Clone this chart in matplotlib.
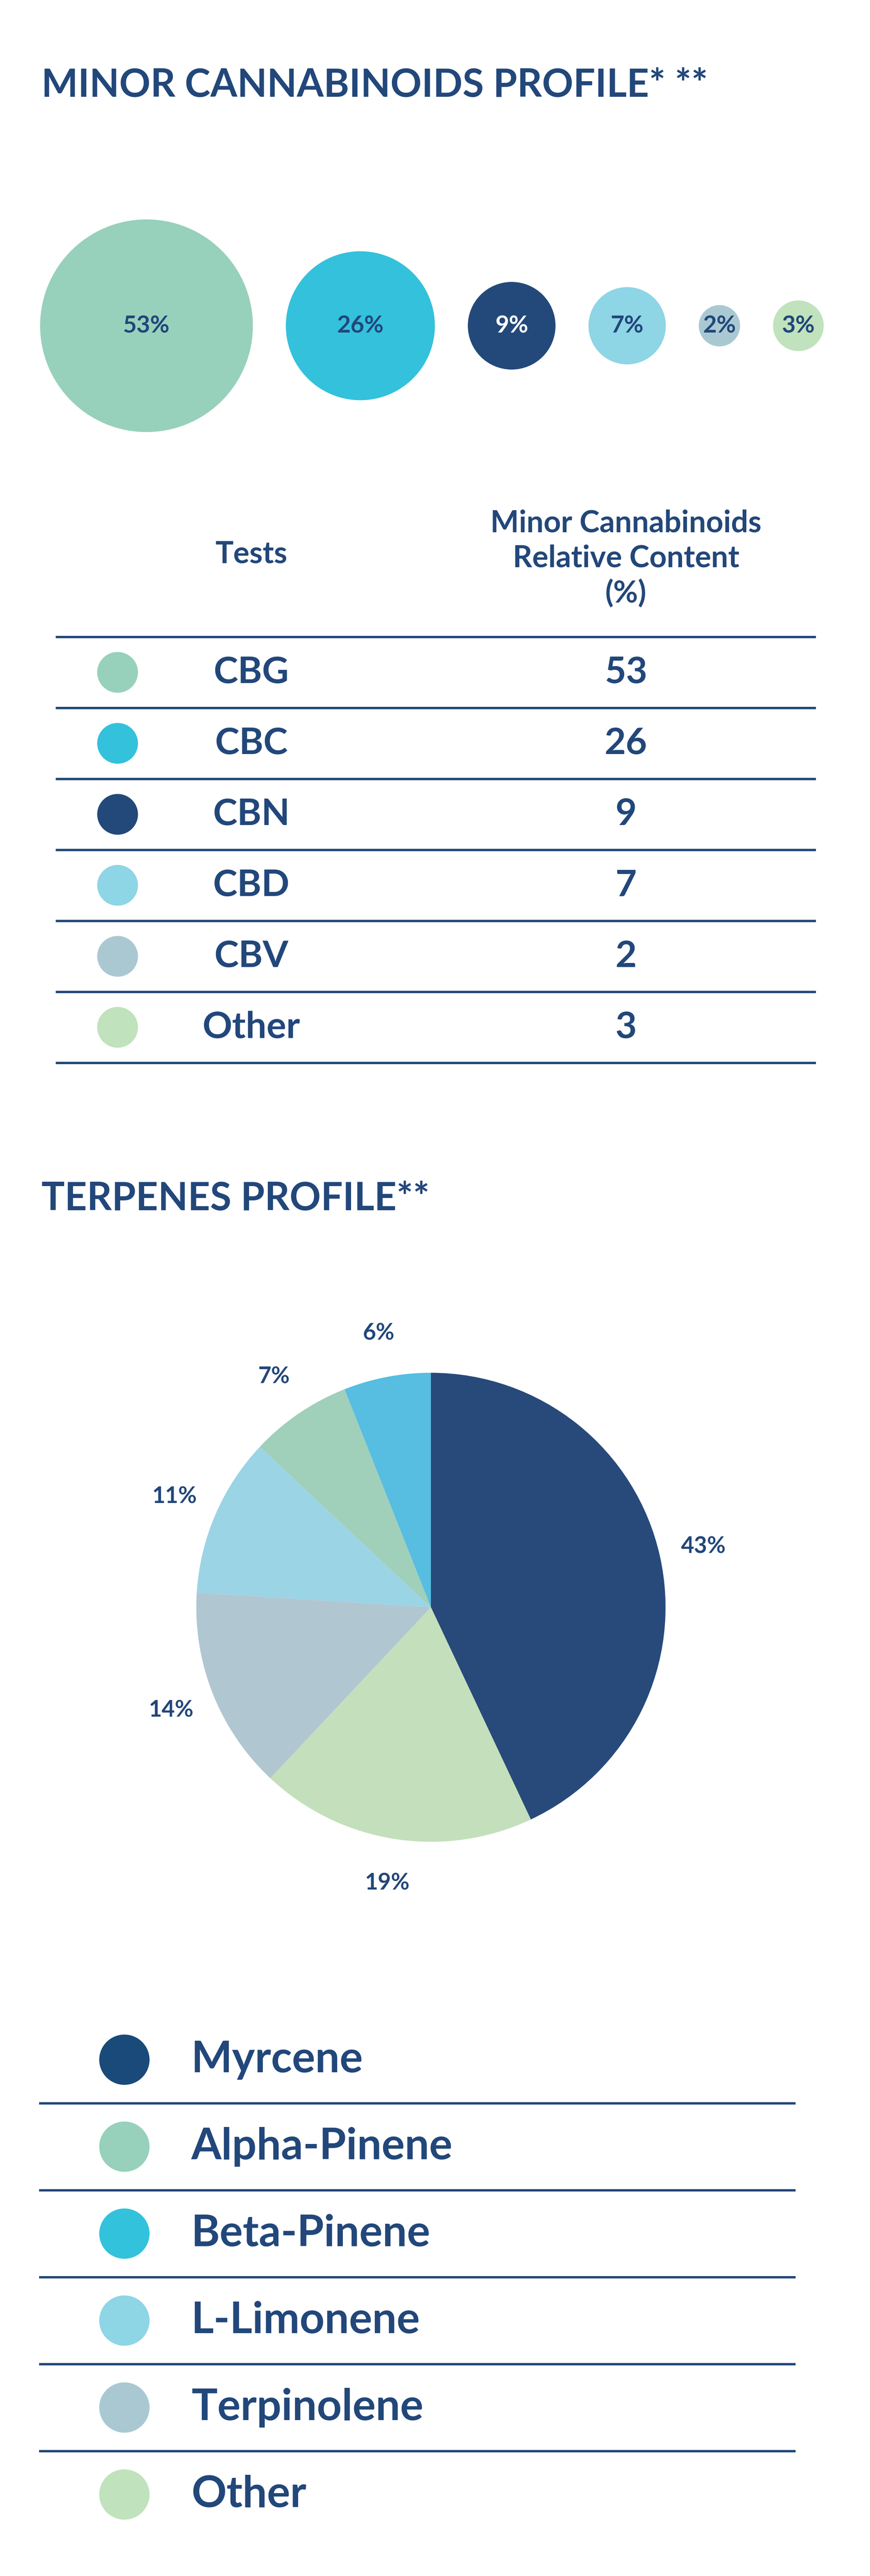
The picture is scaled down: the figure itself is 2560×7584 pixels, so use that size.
import numpy as np
import matplotlib.pyplot as plt
from matplotlib.patches import Circle

# data
cann_names = ['CBG', 'CBC', 'CBN', 'CBD', 'CBV', 'Other']
cann_values = [53, 26, 9, 7, 2, 3]
cann_colors = ['#97d1bb', '#33c1dc', '#23497a', '#8ed5e6', '#aac8d2', '#c0e2bc']

terp_names = ['Myrcene', 'Alpha-Pinene', 'Beta-Pinene', 'L-Limonene', 'Terpinolene', 'Other']
terp_legend_colors = ['#194a7a', '#97d1bb', '#33c2dc', '#8ed5e6', '#aac8d2', '#c0e2bc']
# pie order (clockwise from 12 o'clock)
pie_names = ['Myrcene', 'Other', 'Terpinolene', 'L-Limonene', 'Alpha-Pinene', 'Beta-Pinene']
pie_values = [43, 19, 14, 11, 7, 6]
pie_colors = ['#284a7a', '#c4dfbc', '#b0c7d2', '#9bd4e5', '#a0cfba', '#57bde1']

NAVY = '#22477a'
FONT = 'Lato'
W, H = 2560, 7585

fig = plt.figure(figsize=(W / 100, H / 100), dpi=100)
ax = fig.add_axes([0, 0, 1, 1])
ax.set_xlim(0, W)
ax.set_ylim(H, 0)
ax.axis('off')

# titles
ax.text(122, 252, 'MINOR CANNABINOIDS PROFILE* **', fontsize=82, fontweight='bold',
        color=NAVY, family=FONT, va='center', ha='left')
ax.text(122, 3530, 'TERPENES PROFILE**', fontsize=82, fontweight='bold',
        color=NAVY, family=FONT, va='center', ha='left')

# bubbles, area proportional to value
k = 43.0
x = 118
for name, v, c in zip(cann_names, cann_values, cann_colors):
    r = k * np.sqrt(v)
    cx = x + r
    ax.add_patch(Circle((cx, 960), r, color=c, lw=0))
    ax.text(cx, 960, '%d%%' % v, fontsize=50, fontweight='bold', family=FONT,
            color='white' if name == 'CBN' else NAVY, ha='center', va='center')
    x = cx + r + 97

# table
ax.text(740, 1632, 'Tests', fontsize=64, fontweight='bold', family=FONT,
        color=NAVY, ha='center', va='center')
ax.text(1842, 1645, 'Minor Cannabinoids\nRelative Content\n(%)', fontsize=64,
        fontweight='bold', family=FONT, color=NAVY, ha='center', va='center',
        linespacing=1.3)
row_h = 209
top = 1876
ax.plot([167, 2397], [top, top], color=NAVY, lw=5)
for i, (name, v, c) in enumerate(zip(cann_names, cann_values, cann_colors)):
    yc = top + row_h * (i + 0.5)
    ax.add_patch(Circle((346, yc), 60, color=c, lw=0))
    ax.text(740, yc, name, fontsize=78, fontweight='bold', family=FONT,
            color=NAVY, ha='center', va='center')
    ax.text(1842, yc, str(v), fontsize=78, fontweight='bold', family=FONT,
            color=NAVY, ha='center', va='center')
    yl = top + row_h * (i + 1)
    ax.plot([167, 2397], [yl, yl], color=NAVY, lw=5)

# pie
pcx, pcy, pr = 1268, 4733, 863
pax = fig.add_axes([(pcx - pr) / W, 1 - (pcy + pr) / H, 2 * pr / W, 2 * pr / H])
wedges, texts = pax.pie(pie_values, colors=pie_colors, startangle=90, counterclock=False,
                        labels=['%d%%' % v for v in pie_values], labeldistance=1.19,
                        wedgeprops=dict(linewidth=0))
for t in texts:
    t.set_fontsize(48)
    t.set_fontweight('bold')
    t.set_family(FONT)
    t.set_color(NAVY)
    t.set_ha('center')
pax.set_aspect('equal')

# legend rows
ltop = 6065
lrow = 256
for i, (name, c) in enumerate(zip(terp_names, terp_legend_colors)):
    yc = ltop + lrow * i
    ax.add_patch(Circle((366, yc), 74, color=c, lw=0))
    ax.text(563, yc, name, fontsize=92, fontweight='bold', family=FONT,
            color=NAVY, ha='left', va='center')
    if i < len(terp_names) - 1:
        yl = yc + lrow / 2
        ax.plot([118, 2337], [yl, yl], color=NAVY, lw=5)

fig.savefig('out.png', dpi=100, facecolor='white')
